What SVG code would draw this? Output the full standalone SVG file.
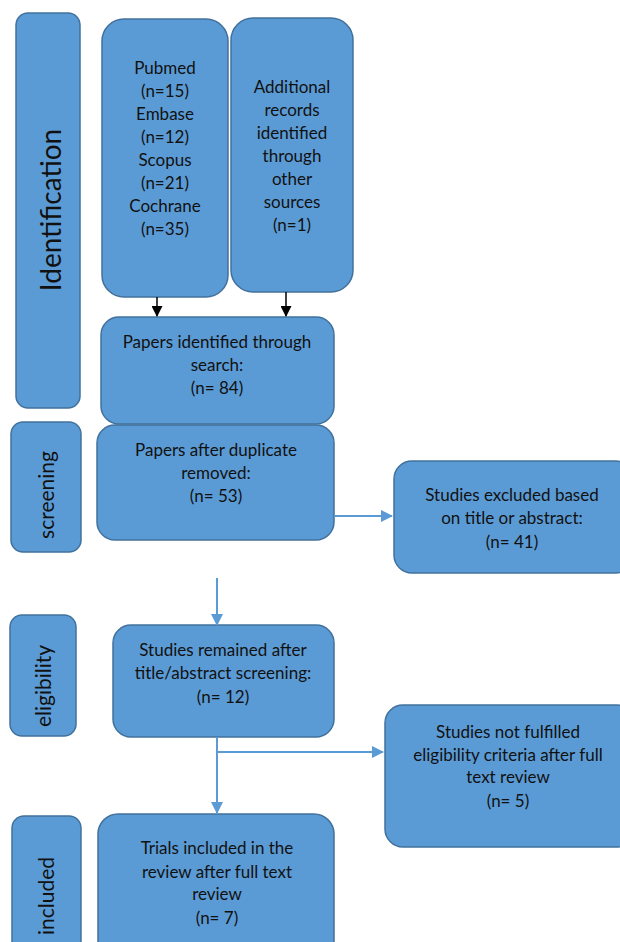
<svg xmlns="http://www.w3.org/2000/svg" width="620" height="942" viewBox="0 0 620 942">
<style>
.box{fill:#5b9bd5;stroke:#41719c;stroke-width:1.5}
text{font-family:Lato,"Liberation Sans",sans-serif;font-size:17px;fill:#111;text-anchor:middle}
.side{font-size:21px}
.big{font-size:28px}
.blk{stroke:#000;stroke-width:1.5;fill:none}
.blu{stroke:#5b9bd5;stroke-width:2;fill:none}
</style>
<defs>
<marker id="ab" markerWidth="11" markerHeight="11" refX="10" refY="5.5" orient="auto" markerUnits="userSpaceOnUse">
<path d="M0,0 L11,5.5 L0,11 Z" fill="#000"/>
</marker>
<marker id="au" markerWidth="12" markerHeight="12" refX="11" refY="6" orient="auto" markerUnits="userSpaceOnUse">
<path d="M0,0 L12,6 L0,12 Z" fill="#5b9bd5"/>
</marker>
</defs>
<g id="identification">
<rect class="box" x="16" y="13" width="64" height="395" rx="12"/>
<text class="big" transform="translate(61,210) rotate(-90)">Identification</text>
</g>
<g id="screening">
<rect class="box" x="11" y="422" width="70" height="130" rx="12"/>
<text class="side" transform="translate(54,495) rotate(-90)">screening</text>
</g>
<g id="eligibility">
<rect class="box" x="10" y="615" width="66" height="121" rx="12"/>
<text class="side" transform="translate(51,686) rotate(-90)">eligibility</text>
</g>
<g id="included">
<rect class="box" x="12" y="816" width="69" height="140" rx="12"/>
<text class="side" transform="translate(54,896) rotate(-90)">included</text>
</g>
<g id="databases">
<rect class="box" x="102" y="19" width="126" height="278" rx="22"/>
<text x="165" y="74">Pubmed</text>
<text x="165" y="97">(n=15)</text>
<text x="165" y="120">Embase</text>
<text x="165" y="143">(n=12)</text>
<text x="165" y="166">Scopus</text>
<text x="165" y="189">(n=21)</text>
<text x="165" y="212">Cochrane</text>
<text x="165" y="235">(n=35)</text>
</g>
<g id="additional">
<rect class="box" x="231" y="18" width="122" height="274" rx="22"/>
<text x="292" y="93">Additional</text>
<text x="292" y="116">records</text>
<text x="292" y="139">identified</text>
<text x="292" y="162">through</text>
<text x="292" y="185">other</text>
<text x="292" y="208">sources</text>
<text x="292" y="231">(n=1)</text>
</g>
<g id="identified">
<rect class="box" x="101" y="317" width="233" height="107" rx="18"/>
<text x="217" y="348">Papers identified through</text>
<text x="217" y="371">search:</text>
<text x="217" y="394">(n= 84)</text>
</g>
<g id="duplicates">
<rect class="box" x="97" y="425" width="237" height="115" rx="18"/>
<text x="216" y="456">Papers after duplicate</text>
<text x="216" y="479">removed:</text>
<text x="216" y="502">(n= 53)</text>
</g>
<g id="excluded">
<rect class="box" x="394" y="461" width="240" height="112" rx="18"/>
<text x="512" y="501">Studies excluded based</text>
<text x="512" y="524">on title or abstract:</text>
<text x="512" y="548">(n= 41)</text>
</g>
<g id="remained">
<rect class="box" x="113" y="625" width="221" height="112" rx="18"/>
<text x="223" y="656">Studies remained after</text>
<text x="223" y="679">title/abstract screening:</text>
<text x="223" y="703">(n= 12)</text>
</g>
<g id="notfulfilled">
<rect class="box" x="385" y="705" width="250" height="142" rx="18"/>
<text x="508" y="738">Studies not fulfilled</text>
<text x="508" y="761">eligibility criteria after full</text>
<text x="508" y="783">text review</text>
<text x="508" y="807">(n= 5)</text>
</g>
<g id="trials">
<rect class="box" x="98" y="814" width="236" height="150" rx="20"/>
<text x="217" y="854">Trials included in the</text>
<text x="217" y="878">review after full text</text>
<text x="217" y="900">review</text>
<text x="217" y="924">(n= 7)</text>
</g>
<g id="connectors">
<line class="blk" x1="157" y1="297" x2="157" y2="316" marker-end="url(#ab)"/>
<line class="blk" x1="286" y1="292" x2="286" y2="316" marker-end="url(#ab)"/>
<line class="blu" x1="334" y1="516" x2="392" y2="516" marker-end="url(#au)"/>
<line class="blu" x1="217" y1="578" x2="217" y2="625" marker-end="url(#au)"/>
<line class="blu" x1="217" y1="737" x2="217" y2="813" marker-end="url(#au)"/>
<line class="blu" x1="217" y1="752" x2="383" y2="752" marker-end="url(#au)"/>
</g>
</svg>
